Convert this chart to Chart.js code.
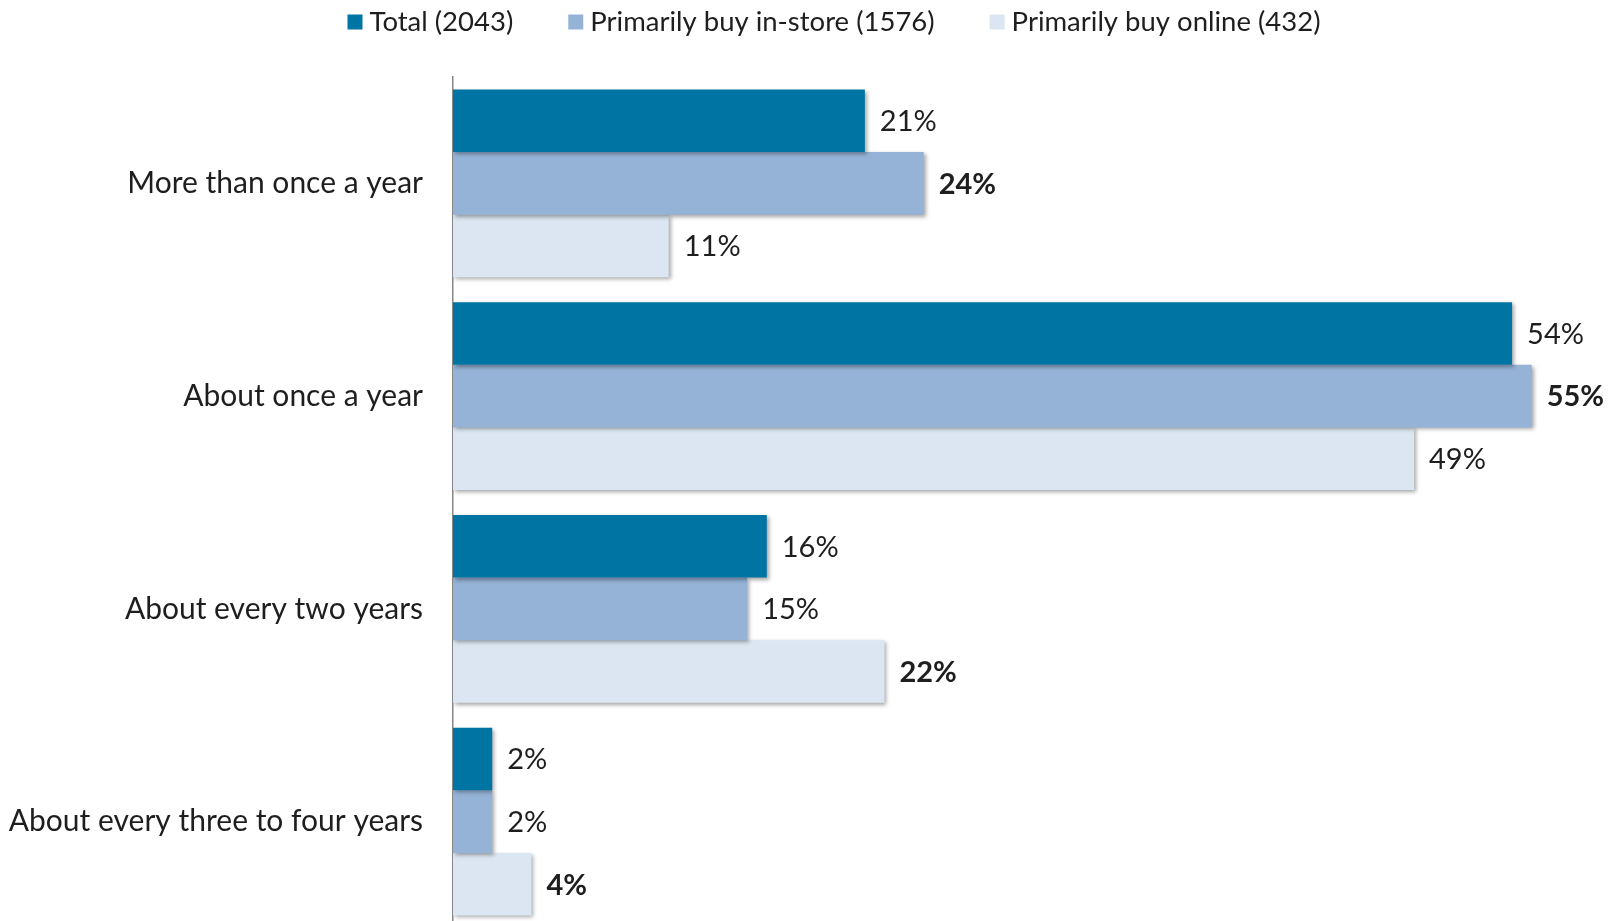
<!DOCTYPE html>
<html>
<head>
<meta charset="utf-8">
<script src="https://cdn.jsdelivr.net/npm/chart.js@4"></script>
<style>
  html, body { margin: 0; padding: 0; background: #fff; overflow: hidden; }
  #wrap { position: relative; width: 1618px; height: 928px; }
</style>
</head>
<body>
<div id="wrap"><canvas id="chart_frequency"></canvas></div>
<script>
// categories and series
const categories = ['More than once a year', 'About once a year', 'About every two years', 'About every three to four years'];
const seriesNames = ['Total (2043)', 'Primarily buy in-store (1576)', 'Primarily buy online (432)'];
const totalVals = [21, 54, 16, 2];
const inStoreVals = [24, 55, 15, 2];
const onlineVals = [11, 49, 22, 4];

const FONT = 'Lato, "Noto Sans", sans-serif';
const cc = { total: 'rgb(0,116,163)', store: 'rgb(149,179,215)', online: 'rgb(220,230,242)', text: 'rgb(30,30,30)', axis: 'rgb(134,134,134)' };

// soft drop shadow under the bars
const barShadow = {
    id: 'barShadow',
    beforeDatasetsDraw(chart) {
        const ctx = chart.ctx;
        ctx.save();
        ctx.shadowColor = 'rgba(0,0,0,0.35)';
        ctx.shadowBlur = 4;
        ctx.shadowOffsetX = 2;
        ctx.shadowOffsetY = 2;
    },
    afterDatasetsDraw(chart) { chart.ctx.restore(); }
};

// value labels at bar ends, the biggest in each group in bold
const valueLabels = {
    id: 'valueLabels',
    afterDatasetsDraw(chart) {
        const ctx = chart.ctx;
        const sets = chart.data.datasets;
        ctx.save();
        ctx.fillStyle = cc.text;
        ctx.textBaseline = 'middle';
        ctx.textAlign = 'left';
        sets.forEach((ds, di) => {
            chart.getDatasetMeta(di).data.forEach((bar, i) => {
                const top = Math.max(...sets.map(s => s.data[i]));
                ctx.font = (ds.data[i] === top ? 'bold ' : '') + '29px ' + FONT;
                ctx.fillText(ds.data[i] + '%', bar.x + 15, bar.y + 1);
            });
        });
        ctx.restore();
    }
};

// legend row across the top
const topLegend = {
    id: 'topLegend',
    afterDraw(chart) {
        const ctx = chart.ctx;
        const sets = chart.data.datasets;
        const box = 15, gapText = 7, gapItem = 55;
        ctx.save();
        ctx.font = '27.5px ' + FONT;
        ctx.textBaseline = 'middle';
        const widths = sets.map(s => ctx.measureText(s.label).width);
        const full = widths.reduce((a, w) => a + box + gapText + w, 0) + gapItem * (sets.length - 1);
        let x = 834 - full / 2;
        const y = 22;
        sets.forEach((s, i) => {
            ctx.fillStyle = s.backgroundColor;
            ctx.fillRect(x, y - box / 2, box, box);
            ctx.fillStyle = cc.text;
            ctx.fillText(s.label, x + box + gapText, y);
            x += box + gapText + widths[i] + gapItem;
        });
        ctx.restore();
    }
};

new Chart(document.getElementById('chart_frequency').getContext('2d'), {
    type: 'bar',
    data: {
        labels: categories,
        datasets: [
            { label: seriesNames[0], data: totalVals, backgroundColor: cc.total },
            { label: seriesNames[1], data: inStoreVals, backgroundColor: cc.store },
            { label: seriesNames[2], data: onlineVals, backgroundColor: cc.online }
        ]
    },
    options: {
        indexAxis: 'y',
        responsive: true,
        maintainAspectRatio: false,
        animation: false,
        events: [],
        layout: { padding: { top: 77, left: 0, right: 0, bottom: 0 } },
        datasets: { bar: { barPercentage: 1, categoryPercentage: 0.882 } },
        plugins: { legend: { display: false }, tooltip: { enabled: false } },
        scales: {
            x: { display: false, min: 0, max: 59.4 },
            y: {
                grid: { display: false, drawTicks: false },
                border: { display: true, color: cc.axis, width: 1.5 },
                ticks: { color: cc.text, padding: 30, font: { family: FONT, size: 30 } },
                afterFit(scale) {
                    scale.width = 453;
                    // keep tick padding from shrinking the plot height
                    scale.paddingTop = 0;
                    scale.paddingBottom = 0;
                }
            }
        }
    },
    plugins: [barShadow, valueLabels, topLegend]
});
</script>
</body>
</html>
